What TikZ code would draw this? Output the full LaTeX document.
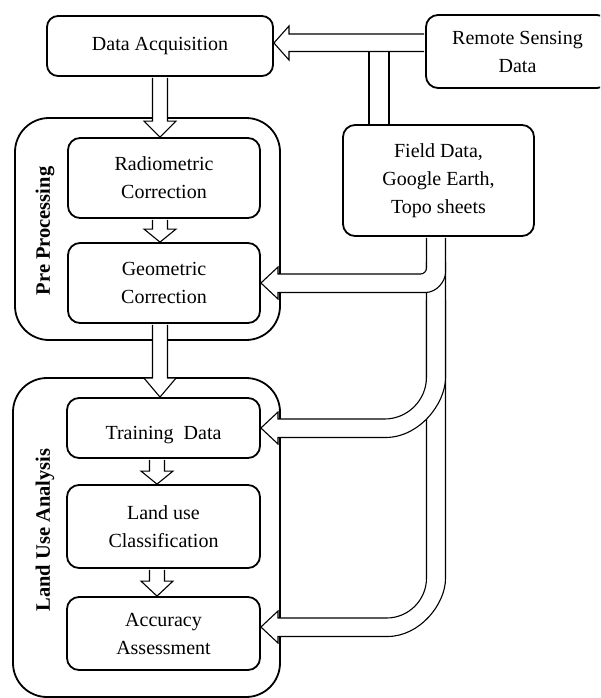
\documentclass[tikz,border=0pt]{standalone}
\usepackage{fontspec}
\setmainfont{Liberation Serif}
\usetikzlibrary{calc}
\tikzset{
  box/.style={draw, line width=1.8pt, rounded corners=12pt, align=center, inner sep=0pt,
    font=\fontsize{20}{28}\selectfont},
  group/.style={draw, line width=1.8pt, rounded corners=34pt, inner sep=0pt},
  hollow/.style={draw, fill=white, line width=1.1pt, line join=miter},
  side/.style={font=\bfseries\fontsize{20.5}{24}\selectfont, rotate=90, inner sep=0pt},
  pipeline/.style={line width=1.1pt},
}
% hollow down arrow: #1 from node, #2 to node, #3 centre x, #4 head length
\newcommand\hdownarrow[4]{%
  \draw[hollow] let \p1=(#1.south), \p2=(#2.north) in
    (#3pt-7.5pt,\y1-1pt) -- (#3pt-7.5pt,\y2+#4pt) -- (#3pt-16pt,\y2+#4pt) -- (#3pt,\y2)
    -- (#3pt+16pt,\y2+#4pt) -- (#3pt+7.5pt,\y2+#4pt) -- (#3pt+7.5pt,\y1-1pt);}
\begin{document}
\begin{tikzpicture}[x=1pt,y=-1pt]
\useasboundingbox (0,0) rectangle (600,698);
\clip (0,0) rectangle (600,698);

% groups
\node[group, minimum width=265pt, minimum height=222pt] (pp) at (147.5,229) {};
\node[group, minimum width=267pt, minimum height=319pt] (lu) at (146.5,537.5) {};

% boxes
\node[box, rounded corners=11pt, minimum width=226pt, minimum height=60pt] (da) at (160,46) {Data Acquisition};
\node[box, minimum width=183pt, minimum height=73pt] (rs) at (517.5,51.5) {Remote Sensing\\Data};
\node[box, minimum width=191pt, minimum height=111pt] (fd) at (438.5,180.5) {Field Data,\\Google Earth,\\Topo sheets};
\node[box, minimum width=192pt, minimum height=80pt] (rc) at (164,178) {Radiometric\\Correction};
\node[box, minimum width=192pt, minimum height=80pt] (gc) at (164,283) {Geometric\\Correction};
\node[box, minimum width=193pt, minimum height=60pt] (td) at (163.5,428) {\rule{0pt}{27pt}Training~ Data};
\node[box, minimum width=193pt, minimum height=83pt] (lc) at (163.5,526.5) {Land use\\Classification};
\node[box, minimum width=193pt, minimum height=73pt] (aa) at (163.5,633.5) {Accuracy\\Assessment};

% side labels
\node[side] (ppl) at (45,231) {Pre Processing};
\node[side] (lul) at (45,530) {Land Use Analysis};

% down arrows
\hdownarrow{da}{rc}{160}{16}
\hdownarrow{rc}{gc}{160}{13}
\hdownarrow{gc}{td}{160}{19}
\hdownarrow{td}{lc}{157}{13}
\hdownarrow{lc}{aa}{157}{15}

% remote sensing -> data acquisition
\draw[hollow] ($(rs.west)+(-1,-17.5)$) -- (289,34) -- (289,26) -- ($(da.east)+(0,-3)$)
  -- (289,60) -- (289,51.5) -- ($(rs.west)+(-1,0)$);
% pipe down to field data
\draw[pipeline] (369,51.5) -- ($(fd.north)+(-69.5,0)$);
\draw[pipeline] (389,51.5) -- ($(fd.north)+(-49.5,0)$);

% field data -> accuracy assessment
\draw[hollow] (426.5,300) -- (426.5,578) .. controls (426.5,600.1) and (408.6,618) .. (386.5,618)
  -- (278,618) -- (278,611) -- ($(aa.east)+(0,-6.5)$) -- (278,643) -- (278,636.5)
  -- (387.5,636.5) .. controls (419.5,636.5) and (445.5,604.5) .. (445.5,578.5) -- (445.5,300);
% field data -> training data
\draw[hollow] (426.5,262) -- (426.5,377) .. controls (426.5,400.2) and (407.7,419) .. (384.5,419)
  -- (278,419) -- (278,412) -- (td.east) -- (278,444) -- (278,437.5)
  -- (385.5,437.5) .. controls (418.6,437.5) and (445.5,404.4) .. (445.5,377.5) -- (445.5,262);
% field data -> geometric correction
\draw[hollow] ($(fd.south)+(-12,1)$) -- (426.5,268) .. controls (426.5,271.3) and (423.8,274) .. (420.5,274)
  -- (278,274) -- (278,267) -- (gc.east) -- (278,299) -- (278,292.5)
  -- (425.5,292.5) .. controls (436.5,292.5) and (445.5,281.5) .. (445.5,272.5) -- ($(fd.south)+(7,1)$);
\end{tikzpicture}
\end{document}
